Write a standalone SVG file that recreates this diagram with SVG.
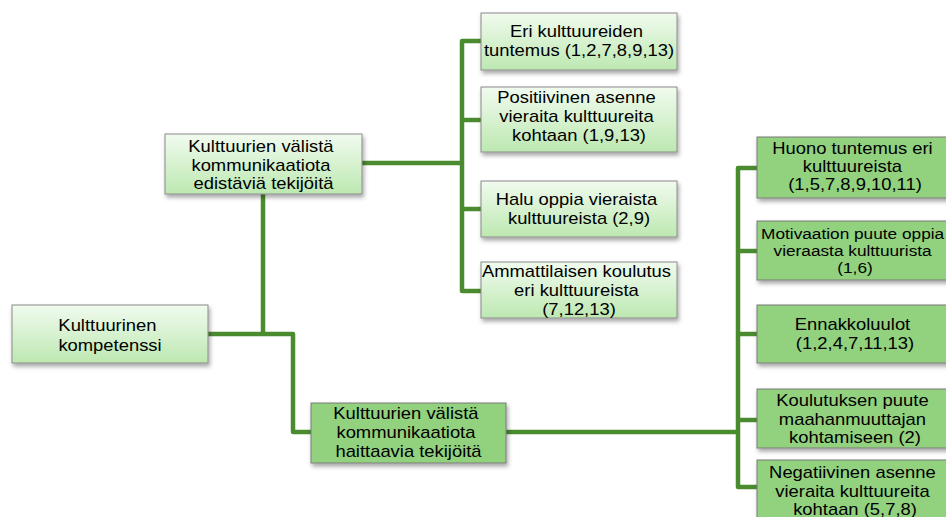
<svg xmlns="http://www.w3.org/2000/svg" width="946" height="517" viewBox="0 0 946 517">
  <defs>
    <linearGradient id="lightFill" x1="0" y1="0" x2="0" y2="1">
      <stop offset="0" stop-color="#f1fbef"/>
      <stop offset="1" stop-color="#bde8b1"/>
    </linearGradient>
    <filter id="shadow" x="-10%" y="-10%" width="125%" height="140%">
      <feDropShadow dx="1.5" dy="3" stdDeviation="2" flood-color="#000" flood-opacity="0.35"/>
    </filter>
  </defs>
  <style>
    .light { fill: url(#lightFill); stroke: #8a8a8a; stroke-width: 1; filter: url(#shadow); }
    .solid { fill: #92d17e; stroke: #7a7a7a; stroke-width: 1; filter: url(#shadow); }
    .t { font-family: "Liberation Sans", Arial, sans-serif; font-size: 16px; fill: #000; text-anchor: middle; }
    .s { font-size: 15px; }
    .link { fill: none; stroke: #4b8b2f; stroke-width: 4.5; stroke-linejoin: round; }
  </style>

  <rect width="946" height="517" fill="#ffffff"/>

  <!-- connectors -->
  <g id="connectors">
    <path class="link" d="M208 334 H293 V432 H311"/>
    <path class="link" d="M263 194 V334"/>
    <path class="link" d="M362 163 H462"/>
    <path class="link" d="M481 41 H462 V291 H481"/>
    <path class="link" d="M462 120 H481"/>
    <path class="link" d="M462 209 H481"/>
    <path class="link" d="M506 432 H738"/>
    <path class="link" d="M757 168 H738 V487 H757"/>
    <path class="link" d="M738 251 H757"/>
    <path class="link" d="M738 334 H757"/>
    <path class="link" d="M738 420 H757"/>
  </g>

  <!-- root -->
  <g id="root">
    <rect class="light" x="12" y="305" width="196" height="58"/>
    <text class="t" transform="translate(110 0) scale(1.15 1)">
      <tspan x="0" y="331">Kulttuurinen</tspan>
      <tspan x="0" y="351">kompetenssi</tspan>
    </text>
  </g>

  <!-- promoting factors -->
  <g id="promoting">
    <rect class="light" x="165" y="134" width="197" height="60"/>
    <text class="t" transform="translate(263.5 0) scale(1.15 1)">
      <tspan x="0" y="152">Kulttuurien välistä</tspan>
      <tspan x="0" y="171">kommunikaatiota</tspan>
      <tspan x="0" y="189">edistäviä tekijöitä</tspan>
    </text>
  </g>

  <g id="p1">
    <rect class="light" x="481" y="13" width="196" height="57"/>
    <text class="t" transform="translate(579 0) scale(1.15 1)">
      <tspan x="0" y="37">Eri kulttuureiden</tspan>
      <tspan x="0" y="56">tuntemus (1,2,7,8,9,13)</tspan>
    </text>
  </g>

  <g id="p2">
    <rect class="light" x="481" y="87" width="196" height="65"/>
    <text class="t" transform="translate(579 0) scale(1.15 1)">
      <tspan x="0" y="103">Positiivinen asenne</tspan>
      <tspan x="0" y="122">vieraita kulttuureita</tspan>
      <tspan x="0" y="141">kohtaan (1,9,13)</tspan>
    </text>
  </g>

  <g id="p3">
    <rect class="light" x="481" y="181" width="196" height="56"/>
    <text class="t" transform="translate(579 0) scale(1.15 1)">
      <tspan x="0" y="205">Halu oppia vieraista</tspan>
      <tspan x="0" y="224">kulttuureista (2,9)</tspan>
    </text>
  </g>

  <g id="p4">
    <rect class="light" x="481" y="262" width="196" height="56"/>
    <text class="t" transform="translate(579 0) scale(1.15 1)">
      <tspan x="0" y="277">Ammattilaisen koulutus</tspan>
      <tspan x="0" y="296">eri kulttuureista</tspan>
      <tspan x="0" y="315">(7,12,13)</tspan>
    </text>
  </g>

  <!-- hindering factors -->
  <g id="hindering">
    <rect class="solid" x="311" y="403" width="195" height="60"/>
    <text class="t" transform="translate(408.5 0) scale(1.15 1)">
      <tspan x="0" y="419">Kulttuurien välistä</tspan>
      <tspan x="0" y="438">kommunikaatiota</tspan>
      <tspan x="0" y="457">haittaavia tekijöitä</tspan>
    </text>
  </g>

  <g id="h1">
    <rect class="solid" x="757" y="137" width="196" height="61"/>
    <text class="t" transform="translate(855 0) scale(1.15 1)">
      <tspan x="0" y="154">Huono tuntemus eri</tspan>
      <tspan x="0" y="172">kulttuureista</tspan>
      <tspan x="0" y="190">(1,5,7,8,9,10,11)</tspan>
    </text>
  </g>

  <g id="h2">
    <rect class="solid" x="757" y="221" width="196" height="59"/>
    <text class="t s" transform="translate(855 0) scale(1.15 1)">
      <tspan x="0" y="239">Motivaation puute oppia</tspan>
      <tspan x="0" y="256">vieraasta kulttuurista</tspan>
      <tspan x="0" y="273">(1,6)</tspan>
    </text>
  </g>

  <g id="h3">
    <rect class="solid" x="757" y="305" width="196" height="58"/>
    <text class="t" transform="translate(855 0) scale(1.15 1)">
      <tspan x="0" y="330">Ennakkoluulot</tspan>
      <tspan x="0" y="349">(1,2,4,7,11,13)</tspan>
    </text>
  </g>

  <g id="h4">
    <rect class="solid" x="757" y="389" width="196" height="59"/>
    <text class="t" transform="translate(855 0) scale(1.15 1)">
      <tspan x="0" y="406">Koulutuksen puute</tspan>
      <tspan x="0" y="425">maahanmuuttajan</tspan>
      <tspan x="0" y="443">kohtamiseen (2)</tspan>
    </text>
  </g>

  <g id="h5">
    <rect class="solid" x="757" y="460" width="196" height="62"/>
    <text class="t" transform="translate(855 0) scale(1.15 1)">
      <tspan x="0" y="478">Negatiivinen asenne</tspan>
      <tspan x="0" y="497">vieraita kulttuureita</tspan>
      <tspan x="0" y="515">kohtaan (5,7,8)</tspan>
    </text>
  </g>
</svg>
